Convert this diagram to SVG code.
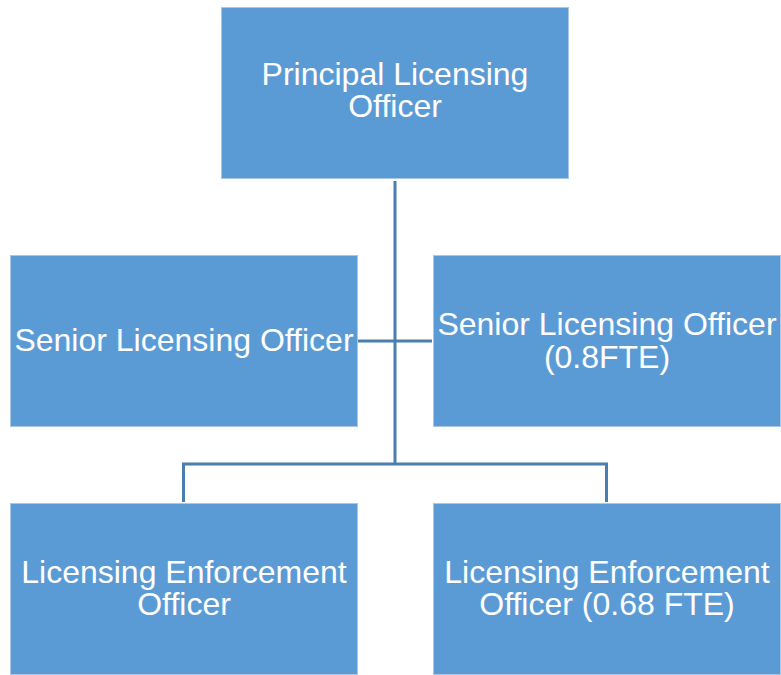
<svg xmlns="http://www.w3.org/2000/svg" width="781" height="675" viewBox="0 0 781 675">
<style>
.box{fill:#5B9BD5;stroke:#A9C8E8;stroke-width:1}
.lbl{fill:#FFFFFF;font-family:"Liberation Sans",Arial,sans-serif;font-size:32px;text-anchor:middle}
.conn{fill:none;stroke:#4A7EAF;stroke-width:3}
</style>
<rect width="781" height="675" fill="#FFFFFF"/>
<g id="connectors">
<path class="conn" d="M395,181 V464"/>
<path class="conn" d="M358,341 H432"/>
<path class="conn" d="M183.5,502 V464 H606.5 V502"/>
</g>
<g id="principal">
<rect class="box" x="221.5" y="7.5" width="347" height="171"/>
<text class="lbl" x="395" y="85">Principal Licensing</text>
<text class="lbl" x="395" y="117">Officer</text>
</g>
<g id="senior1">
<rect class="box" x="10.5" y="255.5" width="347" height="171"/>
<text class="lbl" x="184" y="351">Senior Licensing Officer</text>
</g>
<g id="senior2">
<rect class="box" x="433.5" y="255.5" width="347" height="171"/>
<text class="lbl" x="607" y="335">Senior Licensing Officer</text>
<text class="lbl" x="607" y="368">(0.8FTE)</text>
</g>
<g id="enforcement1">
<rect class="box" x="10.5" y="503.5" width="347" height="171"/>
<text class="lbl" x="184" y="583">Licensing Enforcement</text>
<text class="lbl" x="184" y="615">Officer</text>
</g>
<g id="enforcement2">
<rect class="box" x="433.5" y="503.5" width="347" height="171"/>
<text class="lbl" x="607" y="583">Licensing Enforcement</text>
<text class="lbl" x="607" y="615">Officer (0.68 FTE)</text>
</g>
</svg>
